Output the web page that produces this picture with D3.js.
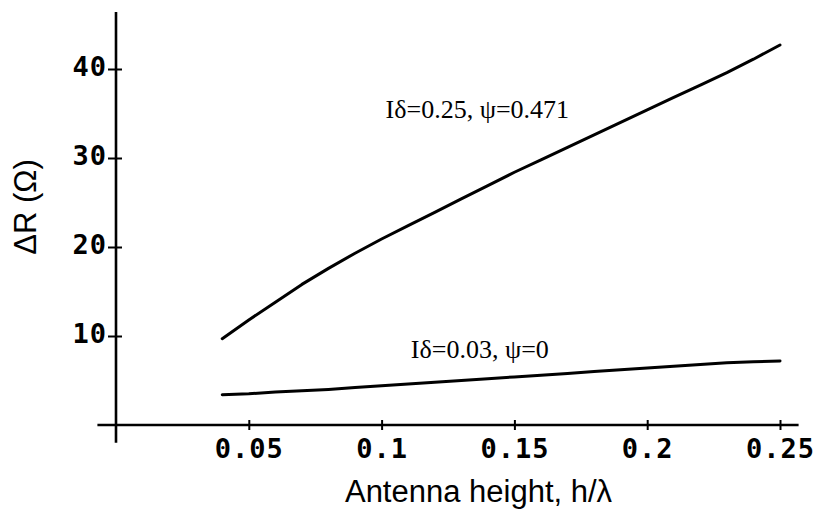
<!DOCTYPE html>
<html>
<head>
<meta charset="utf-8">
<script src="https://cdn.jsdelivr.net/npm/d3@7"></script>
<style>
  html, body { margin: 0; padding: 0; background: #fff; }
  svg { display: block; }
  .tick-label { font-family: "DejaVu Sans Mono", "Liberation Mono", monospace; font-weight: bold; font-size: 27px; letter-spacing: 1px; fill: #000; }
  .axis-title { font-family: "Liberation Sans", Arial, sans-serif; font-size: 31px; fill: #000; }
  .curve-label { font-family: "Liberation Serif", "Times New Roman", serif; font-size: 26px; fill: #000; }
</style>
</head>
<body>
<script>
// Antenna height h/λ (sampled every 0.01)
const heights = [0.04, 0.05, 0.06, 0.07, 0.08, 0.09, 0.10, 0.11, 0.12, 0.13, 0.14,
                 0.15, 0.16, 0.17, 0.18, 0.19, 0.20, 0.21, 0.22, 0.23, 0.24, 0.25];

// ΔR (Ω) for |δ| = 0.25, ψ = 0.471
const deltaRHigh = [9.7, 11.8, 13.8, 15.8, 17.6, 19.3, 20.9, 22.4, 23.9, 25.4, 26.9,
                    28.4, 29.8, 31.2, 32.6, 34.0, 35.4, 36.8, 38.2, 39.6, 41.1, 42.7];

// ΔR (Ω) for |δ| = 0.03, ψ = 0
const deltaRLow = [3.4, 3.5, 3.7, 3.85, 4.0, 4.2, 4.4, 4.6, 4.8, 5.0, 5.2,
                   5.4, 5.6, 5.8, 6.0, 6.2, 6.4, 6.6, 6.8, 7.0, 7.1, 7.2];

const xTicks = [0.05, 0.1, 0.15, 0.2, 0.25];
const xTickLabels = ["0.05", "0.1", "0.15", "0.2", "0.25"];
const yTicks = [10, 20, 30, 40];
const yTickLabels = ["10", "20", "30", "40"];

const curveLabels = ["Iδ=0.25, ψ=0.471", "Iδ=0.03, ψ=0"];
const xTitle = "Antenna height, h/λ";
const yTitle = "ΔR (Ω)";

const W = 816, H = 510;
const svg = d3.select("body").append("svg").attr("width", W).attr("height", H);

const x = d3.scaleLinear().domain([0, 0.25]).range([116, 780]);
const y = d3.scaleLinear().domain([0, 40]).range([425, 69]);

const axisStroke = 2.6;

// Axis lines cross each other past the origin
svg.append("line")
  .attr("x1", x(-0.007)).attr("x2", x(0.257))
  .attr("y1", y(0)).attr("y2", y(0))
  .attr("stroke", "#000").attr("stroke-width", axisStroke);
svg.append("line")
  .attr("x1", x(0)).attr("x2", x(0))
  .attr("y1", y(-2)).attr("y2", y(46.4))
  .attr("stroke", "#000").attr("stroke-width", axisStroke);

// X axis ticks and labels
const xAxis = d3.axisBottom(x).tickValues(xTicks)
  .tickFormat((d, i) => xTickLabels[i]).tickSize(5).tickPadding(10);
const gx = svg.append("g").attr("transform", `translate(0,${y(0)})`).call(xAxis);
gx.select(".domain").remove();
gx.selectAll(".tick line").attr("y1", -5).attr("y2", 5).attr("stroke", "#000").attr("stroke-width", 2);
gx.selectAll(".tick text").attr("class", "tick-label").attr("font-family", null).attr("font-size", null)
  .attr("dy", null).attr("y", 33).attr("dx", 0);

// Y axis ticks and labels
const yAxis = d3.axisLeft(y).tickValues(yTicks)
  .tickFormat((d, i) => yTickLabels[i]).tickSize(7).tickPadding(4);
const gy = svg.append("g").attr("transform", `translate(${x(0)},0)`).call(yAxis);
gy.select(".domain").remove();
gy.selectAll(".tick line").attr("x1", -8).attr("x2", 6).attr("stroke", "#000").attr("stroke-width", 2);
gy.selectAll(".tick text").attr("class", "tick-label").attr("font-family", null).attr("font-size", null)
  .attr("x", -9).attr("dy", null).attr("y", 6);

// Curves
const line = d3.line().x(d => x(d[0])).y(d => y(d[1]));
svg.append("path")
  .datum(heights.map((h, i) => [h, deltaRHigh[i]]))
  .attr("d", line).attr("fill", "none").attr("stroke", "#000").attr("stroke-width", 3)
  .attr("stroke-linecap", "round").attr("stroke-linejoin", "round");
svg.append("path")
  .datum(heights.map((h, i) => [h, deltaRLow[i]]))
  .attr("d", line).attr("fill", "none").attr("stroke", "#000").attr("stroke-width", 3)
  .attr("stroke-linecap", "round").attr("stroke-linejoin", "round");

// Curve annotations
svg.append("text").attr("class", "curve-label")
  .attr("x", x(0.1015)).attr("y", y(34.5)).text(curveLabels[0]);
svg.append("text").attr("class", "curve-label")
  .attr("x", x(0.111)).attr("y", y(7.5)).text(curveLabels[1]);

// Axis titles
svg.append("text").attr("class", "axis-title")
  .attr("x", x(0.1365)).attr("y", 502).attr("text-anchor", "middle").text(xTitle);
svg.append("text").attr("class", "axis-title")
  .attr("transform", `translate(36,207) rotate(-90)`)
  .attr("text-anchor", "middle").text(yTitle);
</script>
</body>
</html>
